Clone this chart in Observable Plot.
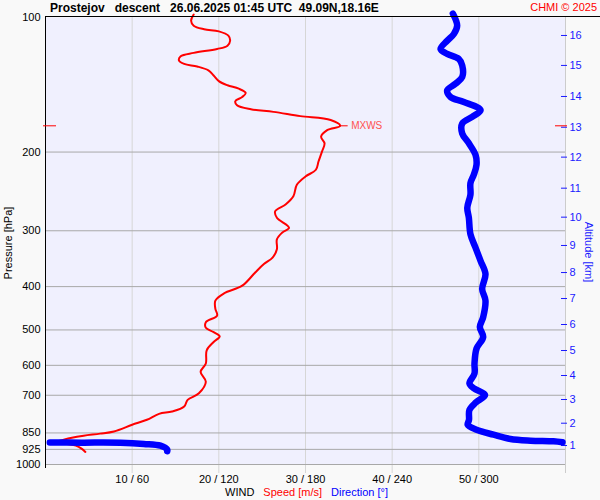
<!DOCTYPE html>
<html><head><meta charset="utf-8">
<script src="https://cdn.jsdelivr.net/npm/d3@7"></script>
<script src="https://cdn.jsdelivr.net/npm/@observablehq/plot@0.6"></script>
<style>
body{margin:0;background:#f9f9f9;font-family:"Liberation Sans",Arial,sans-serif;}
#wrap{position:relative;width:600px;height:500px;overflow:hidden;}
#chart{position:absolute;left:0;top:0;}
.ov{position:absolute;white-space:pre;}
#title{left:50px;top:1px;font-size:12px;font-weight:bold;line-height:14px;color:#000;}
#topline{left:45px;top:16px;width:555px;height:1px;background:#000;}
#chmi{right:3px;top:1px;font-size:11px;line-height:13px;color:#ff0000;}
#ylab{left:8px;top:243px;font-size:11px;color:#000;transform:translate(-50%,-50%) rotate(-90deg);}
#altlab{left:589px;top:252px;font-size:11px;color:#1a1aff;transform:translate(-50%,-50%) rotate(90deg);}
#legend{left:225px;top:486px;font-size:11px;line-height:13px;}
#legend span{margin-right:9px;}
</style></head><body>
<div id="wrap">
<div id="chart"></div>
<div class="ov" id="topline"></div>
<div class="ov" id="title">Prostejov   descent   26.06.2025 01:45 UTC  49.09N,18.16E</div>
<div class="ov" id="chmi">CHMI © 2025</div>
<div class="ov" id="ylab">Pressure [hPa]</div>
<div class="ov" id="altlab">Altitude [km]</div>
<div class="ov" id="legend"><span style="color:#000">WIND</span><span style="color:#ff0000">Speed [m/s]</span><span style="color:#0000ff">Direction [°]</span></div>
</div>
<script>
// Wind speed profile (pressure hPa, speed m/s)
const speedP = [98.5,101.7,104.3,106.2,107.4,109.8,112.7,115.6,117.6,120.0,122.1,124.8,127.0,128.7,131.3,134.8,138.8,141.8,144.3,147.5,150.6,153.9,157.1,160.4,162.6,166.2,169.6,174.7,178.6,184.8,191.2,199.5,210.0,219.1,226.8,236.6,251.2,262.1,271.3,280.6,295.4,303.0,313.6,330.0,344.4,356.2,371.8,398.1,414.1,429.9,448.6,464.2,480.4,494.3,505.6,516.8,532.1,555.2,594.3,620.4,653.0,692.9,717.0,742.0,761.3,770.3,794.3,815.0,843.4,853.0,862.0,872.5,887.5,889.0,892.0,899.5,907.4,922.9,937.2];
const speedV = [17.1,16.8,17.1,18.3,20.0,21.1,21.3,21.0,19.8,17.1,15.6,15.4,16.0,17.5,18.8,19.4,20.0,21.0,22.3,23.1,22.7,21.9,22.1,23.7,26.3,29.4,32.9,34.0,32.5,31.8,32.2,31.9,31.5,31.2,30.0,29.0,28.6,27.7,26.5,26.7,28.1,27.3,26.7,26.7,26.2,25.2,24.2,22.7,20.6,19.6,19.6,19.8,18.5,18.5,19.4,20.1,19.4,18.6,18.5,17.9,18.5,17.7,16.4,16.0,14.6,13.1,11.7,10.0,7.9,6.3,4.4,2.9,1.35,0.6,1.5,2.5,3.5,4.2,4.6];
// Wind direction profile (pressure hPa, direction deg)
const dirP = [98.0,104.3,108.9,112.7,117.6,120.6,123.8,128.0,135.9,140.7,145.5,150.6,154.5,161.2,166.8,172.6,181.7,191.2,202.9,213.6,224.8,234.6,249.0,266.7,280.6,305.5,327.3,350.3,375.0,404.9,429.9,468.2,492.8,518.7,550.5,594.3,625.6,658.4,675.5,698.9,726.1,754.7,794.3,815.0,836.2,857.7,876.8,884.4,887.5,892.0,893.0,893.5,894.0,899.5,907.6,926.3,934.0];
const dirDeg = [282.0,285.0,282.7,278.1,273.5,278.1,286.1,288.5,288.5,283.8,278.1,280.4,289.6,301.2,295.4,288.5,288.5,293.1,297.7,298.4,296.5,294.2,294.2,292.0,293.1,294.2,297.7,301.2,304.6,302.3,304.6,303.0,300.7,303.0,298.4,297.0,297.0,293.5,296.5,304.3,298.0,293.5,293.2,292.3,298.4,310.2,321.9,335.8,351.7,357.9,3.0,25.0,51.9,68.1,79.6,84.3,84.3];
// Axis ticks
const pressureTicks = [100,200,300,400,500,600,700,850,925,1000];
const windTicks = [10,20,30,40,50];
const windGrid = [10,20,30,40,50];
const altKm = [1,2,3,4,5,6,7,8,9,10,11,12,13,14,15,16];
const altP = [906.9,808.4,715.5,632.3,555.9,486.2,425.3,372.0,323.6,279.7,240.9,205.3,176.0,150.2,128.0,109.7];
// Max wind
const mxwsP = 174.7;
const mxwsV = 34.0;

const speed = speedP.map((p, i) => ({p, v: speedV[i]}));
let seg = 0;
const dir = dirP.map((p, i) => {
  if (i > 0 && Math.abs(dirDeg[i] - dirDeg[i - 1]) > 180) seg++;
  return {p, deg: dirDeg[i], seg};
});
const altMap = new Map(altP.map((p, i) => [p, altKm[i]]));
const mx = [{p: mxwsP, v: mxwsV}];
const RED = "#ff0000", BLUE = "#0000ff";

const chart = Plot.plot({
  width: 600, height: 500,
  marginTop: 17, marginBottom: 36, marginLeft: 45, marginRight: 35,
  style: {background: "transparent", fontFamily: "'Liberation Sans', Arial, sans-serif", fontSize: "11px"},
  x: {domain: [0, 60]},
  y: {type: "log", domain: [100, 1000], reverse: true},
  marks: [
    Plot.frame({fill: "#f0f0fe", stroke: null}),
    Plot.ruleX(windGrid, {stroke: "#d6d6d6", insetBottom: -9}),
    Plot.ruleX([60], {stroke: "#cccccc", insetBottom: -9}),
    Plot.ruleY(pressureTicks.filter(p => p > 100), {stroke: "#a8a8a8"}),
    Plot.ruleX([0], {stroke: "#000", insetBottom: -4}),
    Plot.axisY({ticks: pressureTicks, tickSize: 0, tickPadding: 5, tickFormat: d => String(d), label: null, fill: "#000"}),
    Plot.axisY({anchor: "right", ticks: altP, tickFormat: d => altMap.get(d), tickSize: 6, tickPadding: 3, dx: -5, label: null, color: "#1a1aff", textAnchor: "start"}),
    Plot.axisX({ticks: windTicks, tickSize: 0, tickPadding: 11, tickFormat: d => `${d} / ${d * 6}`, label: null, fill: "#000"}),
    Plot.line(speed, {x: "v", y: "p", stroke: RED, strokeWidth: 2, curve: "catmull-rom"}),
    Plot.line(dir, {x: d => d.deg / 6, y: "p", z: "seg", stroke: BLUE, strokeWidth: 6.5, curve: "catmull-rom", strokeLinecap: "round", strokeLinejoin: "round"}),
    Plot.ruleY(mx, {y: "p", x1: 0, x2: 0, insetLeft: -2, insetRight: -11, stroke: RED, strokeWidth: 1}),
    Plot.ruleY(mx, {y: "p", x1: 60, x2: 60, insetLeft: -10, insetRight: -2, stroke: RED, strokeWidth: 1}),
    Plot.ruleY(mx, {y: "p", x1: "v", x2: "v", insetRight: -8, stroke: RED, strokeWidth: 1}),
    Plot.text(mx, {x: "v", y: "p", text: () => "MXWS", dx: 11, textAnchor: "start", fill: "#ff5050", fontSize: 10})
  ]
});
document.getElementById("chart").appendChild(chart);
</script>
</body></html>
